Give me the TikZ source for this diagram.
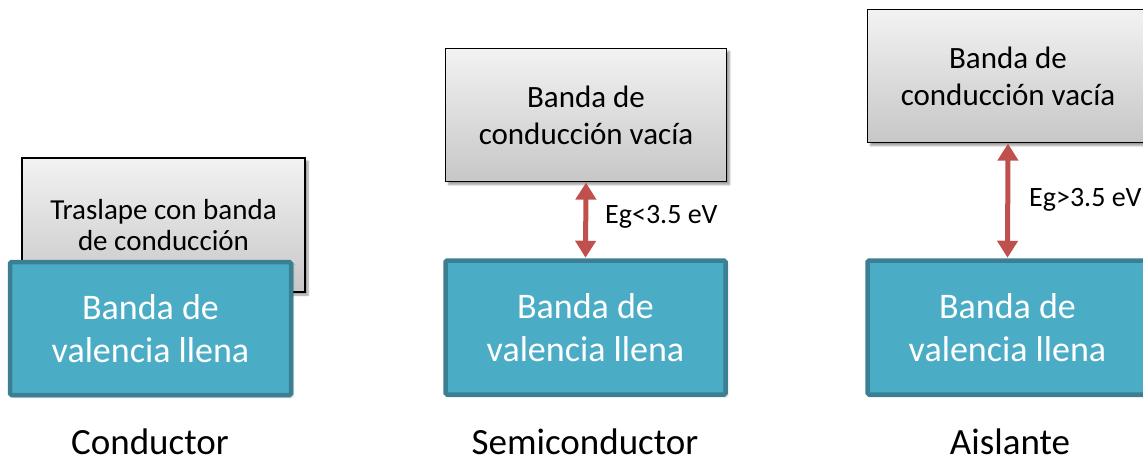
\documentclass[tikz,border=0pt]{standalone}
\usepackage{fontspec}
\setmainfont{Carlito}
\usetikzlibrary{arrows.meta,shadows.blur}
\definecolor{tealfill}{HTML}{4BACC6}
\definecolor{tealline}{HTML}{3A7F92}
\definecolor{gapred}{HTML}{C0504D}
\begin{document}
\begin{tikzpicture}[x=1pt,y=-1pt,
  condband/.style={draw=black,line width=1.2pt,top color=white!95!black,bottom color=black!22,
    blur shadow={shadow xshift=3pt,shadow yshift=-3pt,shadow blur steps=6,shadow opacity=40},
    minimum width=281pt,minimum height=133pt,align=center,inner sep=0pt,
    font=\fontsize{31}{37}\selectfont},
  valband/.style={draw=tealline,line width=4.5pt,fill=tealfill,rounded corners=1.5pt,
    blur shadow={shadow xshift=2pt,shadow yshift=-2pt,shadow blur steps=5,shadow opacity=30},
    minimum width=280pt,minimum height=134pt,align=center,inner sep=0pt,text=white,
    font=\fontsize{36}{43}\selectfont},
  gap/.style={draw=gapred,line width=5pt,{Triangle[width=20pt,length=17pt]}-{Triangle[width=20pt,length=17pt]},shorten <=0.5pt,shorten >=0.5pt},
  gaplabel/.style={anchor=west,inner sep=0pt,font=\fontsize{28}{32}\selectfont},
  caption/.style={anchor=base,inner sep=0pt,text depth=0pt,font=\fontsize{37}{40}\selectfont}
]
\useasboundingbox (0,0) rectangle (1143,459);
\begin{scope}
\clip (0,0) rectangle (1143,459);
% Conductor
\node[condband,minimum width=283pt,minimum height=134pt,font=\fontsize{29}{31}\selectfont] (c1) at (163.5,225) {Traslape con banda\\de conducción};
\node[valband,minimum width=281pt,minimum height=133pt] (v1) at (150.5,328.5) {Banda de\\valencia llena};
\node[caption] (l1) at (150,454) {Conductor};
% Semiconductor
\node[condband] (c2) at (586,115) {Banda de\\conducción vacía};
\node[valband] (v2) at (585.5,327.5) {Banda de\\valencia llena};
\draw[gap] (c2.south) -- (v2.north);
\node[gaplabel] (g2) at (605,217) {Eg<3.5 eV};
\node[caption] (l2) at (585,454) {Semiconductor};
% Aislante
\node[condband] (c3) at (1008,76) {Banda de\\conducción vacía};
\node[valband] (v3) at (1007.5,327.5) {Banda de\\valencia llena};
\draw[gap] (c3.south) -- (v3.north);
\node[gaplabel] (g3) at (1029,200) {Eg>3.5 eV};
\node[caption] (l3) at (1010,454) {Aislante};
\end{scope}
\end{tikzpicture}
\end{document}
